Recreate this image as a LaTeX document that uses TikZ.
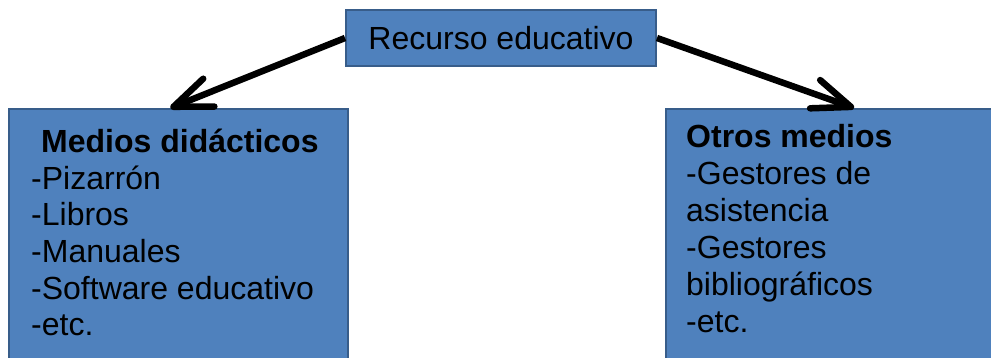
\documentclass[tikz,border=0pt]{standalone}
\usepackage{fontspec}
\setmainfont{Liberation Sans}
\usetikzlibrary{positioning,arrows.meta}
\definecolor{cajaazul}{HTML}{4F81BD}
\definecolor{bordeazul}{HTML}{385D8A}

\begin{document}
\begin{tikzpicture}[x=1pt,y=-1pt,
    caja/.style={draw=bordeazul, fill=cajaazul, line width=2pt, inner sep=0pt},
    texto/.style={anchor=base west, inner sep=0pt, font=\fontsize{32}{36}\selectfont},
    flecha/.style={line width=6.5pt, -{Straight Barb[round, length=38pt, width=30pt]}}]
  \useasboundingbox (0,0) rectangle (991,358);
  % cajas
  \node[caja, minimum width=310pt, minimum height=56pt, font=\fontsize{32}{36}\selectfont] (recurso) at (501,38) {Recurso educativo};
  \node[caja, anchor=north west, minimum width=339pt, minimum height=280pt] (medios) at (8,108) {};
  \node[caja, anchor=north west, minimum width=340pt, minimum height=280pt] (otros) at (665,108) {};
  % texto de las cajas
  \node[texto] (mediostit) at (41,153) {\textbf{Medios didácticos}};
  \foreach \t [count=\i] in {-Pizarrón,-Libros,-Manuales,-Software educativo,-etc.}
    \node[texto] (medios\i) at (31,{189.5+36.5*(\i-1)}) {\t};
  \node[texto] (otrostit) at (686,148) {\textbf{Otros medios}};
  \foreach \t [count=\i] in {-Gestores de,asistencia,-Gestores,bibliográficos,-etc.}
    \node[texto] (otros\i) at (686,{185+36.8*(\i-1)}) {\t};
  % flechas
  \draw[flecha] (recurso.west) -- ([xshift=-8pt]medios.north);
  \draw[flecha] (recurso.east) -- ([xshift=18pt]otros.north);
\end{tikzpicture}
\end{document}
